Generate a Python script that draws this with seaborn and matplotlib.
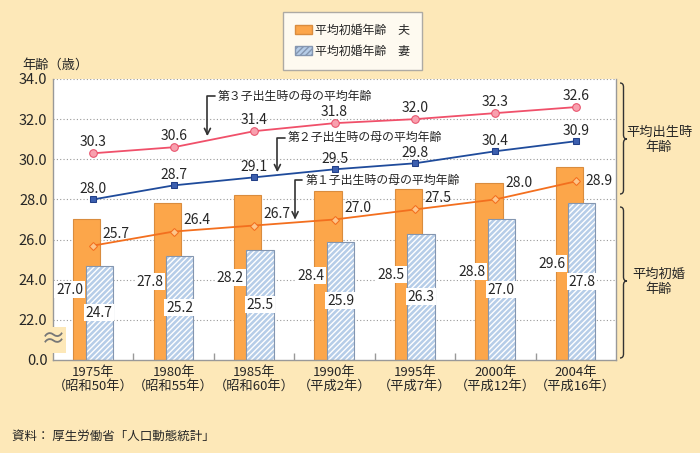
import numpy as np
import pandas as pd
import matplotlib
matplotlib.use("Agg")
import matplotlib.pyplot as plt
from matplotlib.path import Path
from matplotlib.patches import PathPatch, Patch
import seaborn as sns

# data
years = ["1975年\n（昭和50年）", "1980年\n（昭和55年）", "1985年\n（昭和60年）",
         "1990年\n（平成2年）", "1995年\n（平成7年）", "2000年\n（平成12年）",
         "2004年\n（平成16年）"]
husband = [27.0, 27.8, 28.2, 28.4, 28.5, 28.8, 29.6]
wife = [24.7, 25.2, 25.5, 25.9, 26.3, 27.0, 27.8]
child1 = [25.7, 26.4, 26.7, 27.0, 27.5, 28.0, 28.9]
child2 = [28.0, 28.7, 29.1, 29.5, 29.8, 30.4, 30.9]
child3 = [30.3, 30.6, 31.4, 31.8, 32.0, 32.3, 32.6]
yticks = [20, 22, 24, 26, 28, 30, 32, 34]
ytick_labels = ["0.0", "22.0", "24.0", "26.0", "28.0", "30.0", "32.0", "34.0"]

BG = "#FDE8B8"
BASE = 20  # broken axis: bottom of plot shown as 0.0

sns.set_theme(style="white")
plt.rcParams["font.family"] = ["Noto Sans CJK JP", "DejaVu Sans"]
plt.rcParams["hatch.linewidth"] = 1.0

fig = plt.figure(figsize=(7, 4.53), dpi=100, facecolor=BG)
W, H = 700, 453
ax = fig.add_axes([53 / W, 1 - 360 / H, (616 - 53) / W, (360 - 79) / H])
ax.set_facecolor("white")

df = pd.DataFrame({"pos": np.arange(len(years)), "husband": husband, "wife": wife,
                   "child1": child1, "child2": child2, "child3": child3})
x = df["pos"].to_numpy()

# bars
bw = 0.34
hx = x - 0.08
wx = x + 0.075
ax.bar(hx, df["husband"] - BASE, bottom=BASE, width=bw, color="#FCA64A",
       edgecolor="#D98C3E", linewidth=0.8, zorder=2)
ax.bar(wx, df["wife"] - BASE, bottom=BASE, width=bw, color="#B6CDE8",
       edgecolor="white", linewidth=0, hatch="//////", zorder=2)
ax.bar(wx, df["wife"] - BASE, bottom=BASE, width=bw, fill=False,
       edgecolor="#8496B0", linewidth=0.8, zorder=2)

box = dict(boxstyle="square,pad=0.12", fc="white", ec="none")
for xi, v in zip(x, husband):
    ax.text(xi - 0.125, (BASE + v) / 2, f"{v:.1f}", ha="right", va="center",
            fontsize=10, bbox=box, zorder=5)
for xi, v in zip(wx, wife):
    ax.text(xi, (BASE + v) / 2, f"{v:.1f}", ha="center", va="center",
            fontsize=10, bbox=box, zorder=5)

# lines
sns.lineplot(data=df, x="pos", y="child3", ax=ax, color="#F0506A", linewidth=1.3,
             marker="o", markersize=5.5, markerfacecolor="#F8A0AE",
             markeredgecolor="#E8506A", zorder=4)
sns.lineplot(data=df, x="pos", y="child2", ax=ax, color="#1F4B9B", linewidth=1.3,
             marker="s", markersize=5, markerfacecolor="#3C5FAF",
             markeredgecolor="#223F88", zorder=4)
sns.lineplot(data=df, x="pos", y="child1", ax=ax, color="#F36F1E", linewidth=1.3,
             marker="D", markersize=4.5, markerfacecolor="#FDC58A",
             markeredgecolor="#F36F1E", zorder=4)

for xi, v in zip(x, child3):
    ax.annotate(f"{v:.1f}", (xi, v), xytext=(0, 3), textcoords="offset points",
                ha="center", va="bottom", fontsize=10, zorder=6)
for xi, v in zip(x, child2):
    ax.annotate(f"{v:.1f}", (xi, v), xytext=(0, 2.5), textcoords="offset points",
                ha="center", va="bottom", fontsize=10, zorder=6)
c1_dy = [8, 8, 8, 8, 8, 12, 0]
for xi, v, dy in zip(x, child1, c1_dy):
    ax.annotate(f"{v:.1f}", (xi, v), xytext=(7, dy), textcoords="offset points",
                ha="left", va="center", fontsize=10, zorder=6)

# callouts
arrow = dict(arrowstyle="->,head_length=0.5,head_width=0.25", color="#333333",
             lw=1.2, shrinkA=0, shrinkB=0, relpos=(0, 0.5),
             connectionstyle="angle,angleA=180,angleB=90,rad=0")
callouts = [("第３子出生時の母の平均年齢", (1.42, 31.15), (1.55, 33.15)),
            ("第２子出生時の母の平均年齢", (2.29, 29.35), (2.42, 31.08)),
            ("第１子出生時の母の平均年齢", (2.51, 27.0), (2.64, 28.95))]
for txt, xy, xyt in callouts:
    ax.annotate(txt, xy=xy, xytext=xyt, ha="left", va="center", fontsize=8.6,
                arrowprops=arrow, zorder=6)

# axes
ax.set_xlim(-0.5, 6.5)
ax.set_ylim(BASE, 34)
ax.set_yticks(yticks)
ax.set_yticklabels(ytick_labels, fontsize=10.5)
ax.set_xticks(x)
ax.set_xticklabels(years, fontsize=9.5, linespacing=1.1)
ax.set_xticks(np.arange(0.5, 6, 1), minor=True)
ax.tick_params(axis="x", which="major", length=0, pad=4)
ax.tick_params(axis="x", which="minor", direction="in", length=5, color="#999999",
               bottom=True)
ax.tick_params(axis="y", length=0, pad=4)
ax.set_xlabel("")
ax.set_ylabel("")
for yv in yticks[1:]:
    ax.axhline(yv, color="#999999", linestyle=(0, (1, 2)), linewidth=0.8, zorder=1)
ax.spines["top"].set_visible(False)
for s in ("left", "bottom", "right"):
    ax.spines[s].set_color("#999999")
    ax.spines[s].set_linewidth(1.0)

# axis break mark
ax.text(0, 21.0, "≈", transform=ax.get_yaxis_transform(), ha="center", va="center",
        fontsize=18, color="#777777", zorder=7, clip_on=False,
        bbox=dict(boxstyle="square,pad=0.0", fc=BG, ec="none"))

# braces on the right
def brace(x0, top, bottom, mid, w=7, r=4):
    pts = [(x0, top), (x0 + w / 2, top), (x0 + w / 2, top + r),
           (x0 + w / 2, mid - r), (x0 + w / 2, mid), (x0 + w, mid),
           (x0 + w / 2, mid), (x0 + w / 2, mid + r),
           (x0 + w / 2, bottom - r), (x0 + w / 2, bottom), (x0, bottom)]
    codes = [Path.MOVETO, Path.CURVE3, Path.CURVE3, Path.LINETO, Path.CURVE3,
             Path.CURVE3, Path.CURVE3, Path.CURVE3, Path.LINETO, Path.CURVE3,
             Path.CURVE3]
    verts = [(px / W, 1 - py / H) for px, py in pts]
    fig.patches.append(PathPatch(Path(verts, codes), transform=fig.transFigure,
                                 fill=False, ec="#333333", lw=1.0))

brace(620, 83, 194, 139)
brace(620, 207, 358, 281)
fig.text(659 / W, 1 - 140 / H, "平均出生時\n年齢", ha="center", va="center",
         fontsize=9.5, linespacing=1.15)
fig.text(659 / W, 1 - 282 / H, "平均初婚\n年齢", ha="center", va="center",
         fontsize=9.5, linespacing=1.15)

# legend
handles = [Patch(fc="#FCA64A", ec="#D98C3E"),
           Patch(fc="#B6CDE8", ec="#8496B0", hatch="//////")]
leg = fig.legend(handles, ["平均初婚年齢　夫", "平均初婚年齢　妻"],
                 loc="upper left", bbox_to_anchor=(283 / W, 1 - 12 / H),
                 fontsize=8.6, frameon=True, fancybox=False, handlelength=1.4,
                 handleheight=0.75, borderpad=1.0, labelspacing=0.65,
                 handletextpad=0.3, borderaxespad=0)
leg.get_frame().set_edgecolor("#999999")
leg.get_frame().set_facecolor("white")
leg.get_frame().set_linewidth(1.0)

fig.text(22 / W, 1 - 65 / H, "年齢（歳）", ha="left", va="center", fontsize=9.5)
fig.text(12 / W, 1 - 436 / H, "資料： 厚生労働省「人口動態統計」", ha="left",
         va="center", fontsize=9)

fig.savefig("out.png", dpi=100, facecolor=BG)
